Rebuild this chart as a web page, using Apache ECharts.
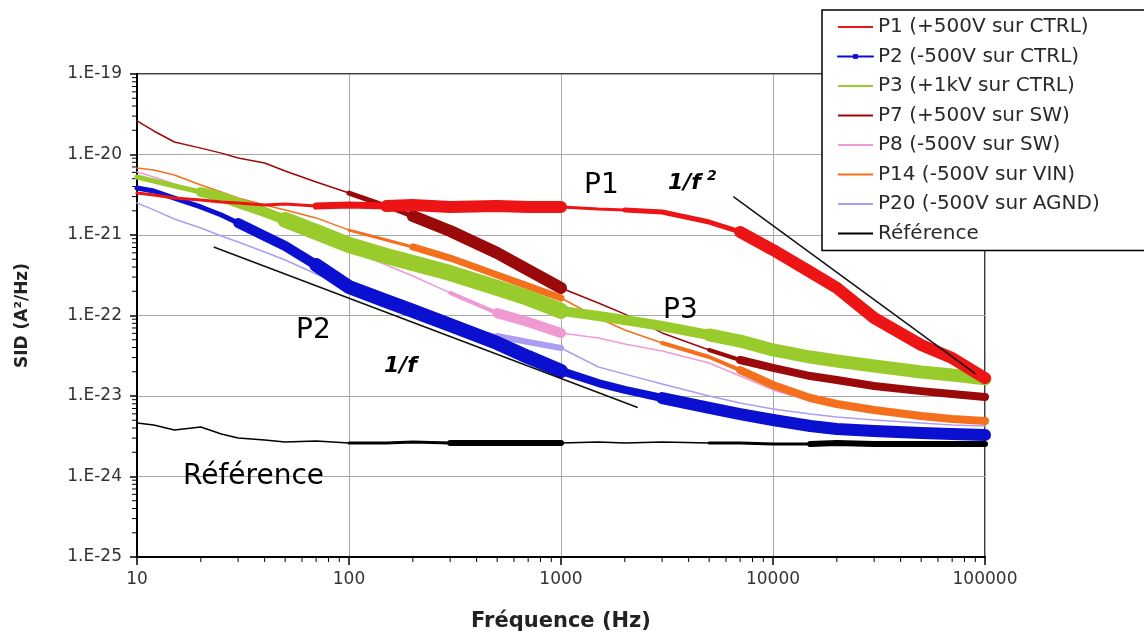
<!DOCTYPE html>
<html>
<head>
<meta charset="utf-8">
<title>SID en fonction de la fréquence</title>
<script src="https://cdn.jsdelivr.net/npm/echarts@6/dist/echarts.min.js"></script>
<style>
  html, body { margin: 0; padding: 0; background: #fff; }
  #chart { width: 1144px; height: 637px; }
</style>
</head>
<body>
<div id="chart"></div>
<script>
// fréquences communes à toutes les courbes (Hz)
const freq = [10, 12, 15, 20, 25, 30, 40, 50, 70, 100, 150, 200, 300, 500, 700, 1000,
  1500, 2000, 3000, 5000, 7000, 10000, 15000, 20000, 30000, 50000, 70000, 100000];

// SID (A²/Hz)
const sidP1 = [3.32e-21, 3.14e-21, 2.88e-21, 2.72e-21, 2.57e-21, 2.50e-21, 2.36e-21, 2.43e-21, 2.29e-21, 2.36e-21,
  2.29e-21, 2.36e-21, 2.23e-21, 2.29e-21, 2.23e-21, 2.23e-21, 2.10e-21, 2.05e-21, 1.93e-21, 1.45e-21,
  1.09e-21, 6.52e-22, 3.47e-22, 2.20e-22, 9.31e-23, 4.30e-23, 2.96e-23, 1.67e-23];
const sidP2 = [3.84e-21, 3.52e-21, 2.88e-21, 2.23e-21, 1.77e-21, 1.41e-21, 9.72e-22, 7.30e-22, 4.24e-22, 2.26e-22,
  1.51e-22, 1.14e-22, 7.62e-23, 4.55e-23, 3.05e-23, 2.05e-23, 1.45e-23, 1.19e-23, 9.44e-24, 7.10e-24,
  5.97e-24, 5.03e-24, 4.24e-24, 3.89e-24, 3.67e-24, 3.47e-24, 3.37e-24, 3.28e-24];
const sidP3 = [5.25e-21, 4.69e-21, 4.06e-21, 3.42e-21, 2.97e-21, 2.50e-21, 1.93e-21, 1.54e-21, 1.09e-21, 7.52e-22,
  5.48e-22, 4.49e-22, 3.37e-22, 2.20e-22, 1.65e-22, 1.14e-22, 9.86e-23, 8.79e-23, 7.41e-23, 5.73e-23,
  4.82e-23, 3.73e-23, 3.05e-23, 2.72e-23, 2.36e-23, 1.99e-23, 1.82e-23, 1.63e-23];
const sidP7 = [2.61e-20, 1.96e-20, 1.43e-20, 1.20e-20, 1.04e-20, 9.05e-21, 7.84e-21, 6.23e-21, 4.55e-21, 3.32e-21,
  2.29e-21, 1.72e-21, 1.12e-21, 5.97e-22, 3.67e-22, 2.20e-22, 1.43e-22, 1.04e-22, 6.07e-23, 3.73e-23,
  2.80e-23, 2.23e-23, 1.77e-23, 1.58e-23, 1.33e-23, 1.15e-23, 1.06e-23, 9.72e-24];
const sidP8 = [6.07e-21, 5.25e-21, 4.31e-21, 3.42e-21, 2.80e-21, 2.36e-21, 1.82e-21, 1.49e-21, 1.00e-21, 6.52e-22,
  4.24e-22, 3.09e-22, 1.91e-22, 1.07e-22, 8.30e-23, 6.07e-23, 5.25e-23, 4.43e-23, 3.62e-23, 2.57e-23,
  1.77e-23, 1.19e-23, 8.67e-24, 7.30e-24, 6.15e-24, 5.33e-24, 4.89e-24, 4.62e-24];
const sidP14 = [6.79e-21, 6.42e-21, 5.56e-21, 4.18e-21, 3.42e-21, 2.88e-21, 2.36e-21, 2.05e-21, 1.63e-21, 1.15e-21,
  8.67e-22, 7.10e-22, 5.17e-22, 3.18e-22, 2.32e-22, 1.65e-22, 9.31e-23, 6.61e-23, 4.55e-23, 3.05e-23,
  2.10e-23, 1.37e-23, 9.44e-24, 7.96e-24, 6.70e-24, 5.65e-24, 5.18e-24, 4.89e-24];
const sidP20 = [2.50e-21, 2.05e-21, 1.58e-21, 1.22e-21, 9.72e-22, 8.18e-22, 6.15e-22, 4.89e-22, 3.28e-22, 2.20e-22,
  1.47e-22, 1.10e-22, 7.84e-23, 5.56e-23, 4.69e-23, 3.95e-23, 2.29e-23, 1.87e-23, 1.41e-23, 1.00e-23,
  8.18e-24, 6.90e-24, 5.97e-24, 5.48e-24, 5.03e-24, 4.62e-24, 4.36e-24, 4.24e-24];
const sidRef = [4.62e-24, 4.36e-24, 3.78e-24, 4.12e-24, 3.37e-24, 3.01e-24, 2.84e-24, 2.68e-24, 2.76e-24, 2.61e-24,
  2.61e-24, 2.68e-24, 2.61e-24, 2.61e-24, 2.61e-24, 2.61e-24, 2.68e-24, 2.61e-24, 2.68e-24, 2.61e-24,
  2.61e-24, 2.53e-24, 2.53e-24, 2.61e-24, 2.53e-24, 2.53e-24, 2.53e-24, 2.53e-24];

// droites de pente 1/f et 1/f²
const fitFreq1 = [23, 2300];
const fitSid1 = [7.1e-22, 7.2e-24];
const fitFreq2 = [6500, 90000];
const fitSid2 = [3.0e-21, 1.9e-23];

// graduations secondaires des axes log
const minorSteps = [2, 3, 4, 5, 6, 7, 8, 9];
const xDecades = [10, 100, 1000, 10000];
const yDecades = [1e-25, 1e-24, 1e-23, 1e-22, 1e-21, 1e-20];

// echarts arrondit les très petites valeurs sur un axe log, on décale donc de 1e25
const Y_SHIFT = 1e25;
const FONT = '"DejaVu Sans", Arial, sans-serif';
const LINE_ICON = 'path://M0,2 L35,2 L35,4 L0,4 Z';

// ordre de tracé (le dernier est au-dessus) ; dense = zones où le bruit épaissit la trace
const curves = [
  { name: 'P20 (-500V sur AGND)', values: sidP20, color: '#ab9ef2', thin: 1.5, dense: [[300, 1000, 3], [500, 1000, 6]] },
  { name: 'P8 (-500V sur SW)', values: sidP8, color: '#f09ad2', thin: 1.5, dense: [[300, 1000, 4], [500, 1000, 10]] },
  { name: 'P14 (-500V sur VIN)', values: sidP14, color: '#f5701c', thin: 1.5,
    dense: [[100, 1000, 3], [200, 1000, 7], [3000, 100000, 4], [7000, 100000, 8]] },
  { name: 'P7 (+500V sur SW)', values: sidP7, color: '#9a0a0a', thin: 1.5,
    dense: [[100, 1000, 5], [200, 1000, 12], [5000, 100000, 4], [7000, 100000, 8]] },
  { name: 'P3 (+1kV sur CTRL)', values: sidP3, color: '#9acb2c', thin: 5,
    dense: [[20, 1000, 10], [50, 1000, 16], [1000, 100000, 10], [5000, 100000, 13]] },
  { name: 'Référence', values: sidRef, color: '#000000', thin: 1.5,
    dense: [[100, 1000, 3], [300, 1000, 6], [5000, 100000, 3], [15000, 100000, 6]] },
  { name: 'P2 (-500V sur CTRL)', values: sidP2, color: '#0b0fcf', thin: 5,
    dense: [[30, 1000, 10], [70, 1000, 14], [1000, 100000, 8], [3000, 100000, 12]], symbol: 'rect' },
  { name: 'P1 (+500V sur CTRL)', values: sidP1, color: '#ec1414', thin: 3,
    dense: [[70, 1000, 7], [150, 1000, 12], [2000, 100000, 5], [7000, 100000, 12]] }
];
const legendOrder = ['P1 (+500V sur CTRL)', 'P2 (-500V sur CTRL)', 'P3 (+1kV sur CTRL)', 'P7 (+500V sur SW)',
  'P8 (-500V sur SW)', 'P14 (-500V sur VIN)', 'P20 (-500V sur AGND)', 'Référence'];

const series = [];
curves.forEach(c => {
  const pts = freq.map((f, i) => [f, c.values[i] * Y_SHIFT]);
  series.push({
    type: 'line', name: c.name, data: pts,
    symbol: c.symbol || 'none', symbolSize: 6, showSymbol: false,
    lineStyle: { color: c.color, width: c.thin, join: 'round', cap: 'round' },
    itemStyle: { color: c.color }
  });
  c.dense.forEach(([lo, hi, w]) => {
    series.push({
      type: 'line', name: c.name, symbol: 'none',
      data: pts.filter(p => p[0] >= lo && p[0] <= hi),
      lineStyle: { color: c.color, width: w, join: 'round', cap: 'round' },
      itemStyle: { color: c.color }
    });
  });
});
[[fitFreq1, fitSid1], [fitFreq2, fitSid2]].forEach(([fx, fy]) => {
  series.push({
    type: 'line', name: 'pente', symbol: 'none',
    data: fx.map((f, i) => [f, fy[i] * Y_SHIFT]),
    lineStyle: { color: '#111', width: 1.5 }
  });
});

const chart = echarts.init(document.getElementById('chart'));
chart.setOption({
  animation: false,
  backgroundColor: '#fff',
  grid: { left: 137, right: 159, top: 74, bottom: 80, show: true, borderColor: '#000', borderWidth: 1.5 },
  legend: {
    data: legendOrder.map(n => n === 'P2 (-500V sur CTRL)' ? { name: n } : { name: n, icon: LINE_ICON }),
    orient: 'vertical', left: 822, top: 10,
    backgroundColor: '#fff', borderColor: '#000', borderWidth: 1.5, borderRadius: 0,
    padding: [7, 50, 7, 15], itemGap: 9.5, itemWidth: 35, itemHeight: 6,
    symbolKeepAspect: true,
    lineStyle: { width: 2 },
    textStyle: { fontFamily: FONT, fontSize: 20, color: '#2a2a2a' },
    z: 10
  },
  xAxis: {
    type: 'log', logBase: 10, min: 10, max: 100000,
    name: 'Fréquence (Hz)', nameLocation: 'middle', nameGap: 54,
    nameTextStyle: { fontFamily: FONT, fontSize: 21, fontWeight: 'bold', color: '#222' },
    axisLine: { lineStyle: { color: '#000', width: 2 } },
    axisTick: { length: 8, lineStyle: { color: '#000', width: 1.5 } },
    axisLabel: { fontFamily: FONT, fontSize: 17, color: '#333', margin: 14, formatter: v => String(Math.round(v)) },
    splitLine: { show: true, lineStyle: { color: '#a8a8a8', width: 1 } }
  },
  yAxis: {
    type: 'log', logBase: 10, min: 1, max: 1e6,
    name: 'SID (A²/Hz)', nameLocation: 'middle', nameGap: 106, nameRotate: 90,
    nameTextStyle: { fontFamily: FONT, fontSize: 17, fontWeight: 'bold', color: '#222' },
    axisLine: { lineStyle: { color: '#000', width: 2 } },
    axisTick: { length: 7, lineStyle: { color: '#000', width: 1.5 } },
    axisLabel: {
      fontFamily: FONT, fontSize: 17, color: '#333', margin: 15,
      formatter: v => '1.E' + (Math.round(Math.log10(v / Y_SHIFT)))
    },
    splitLine: { show: true, lineStyle: { color: '#a8a8a8', width: 1 } }
  },
  series: series
});

// petites graduations + annotations
const grid = { x0: 137, y1: 557 };
const extra = [];
xDecades.forEach(d => minorSteps.forEach(k => {
  const px = chart.convertToPixel({ xAxisIndex: 0 }, d * k);
  extra.push({ type: 'line', shape: { x1: px, y1: grid.y1, x2: px, y2: grid.y1 + 5 }, style: { stroke: '#000', lineWidth: 1 } });
}));
yDecades.forEach(d => minorSteps.forEach(k => {
  const py = chart.convertToPixel({ yAxisIndex: 0 }, d * k * Y_SHIFT);
  extra.push({ type: 'line', shape: { x1: grid.x0 - 5, y1: py, x2: grid.x0, y2: py }, style: { stroke: '#000', lineWidth: 1 } });
}));
const label = (text, x, y, size, weight, style) => ({
  type: 'text', x: x, y: y, z: 20,
  style: { text: text, fontFamily: FONT, fontSize: size, fontWeight: weight || 'normal', fontStyle: style || 'normal',
    fill: '#000', align: 'left', verticalAlign: 'middle' }
});
extra.push(label('P1', 584, 186, 28));
extra.push(label('1/f', 668, 183, 22, 'bold', 'italic'));
extra.push(label('2', 707, 176, 14, 'bold', 'italic'));
extra.push(label('P3', 663, 311, 28));
extra.push(label('P2', 296, 331, 28));
extra.push(label('1/f', 384, 366, 22, 'bold', 'italic'));
extra.push(label('Référence', 183, 477, 28));
chart.setOption({ graphic: extra });
</script>
</body>
</html>
